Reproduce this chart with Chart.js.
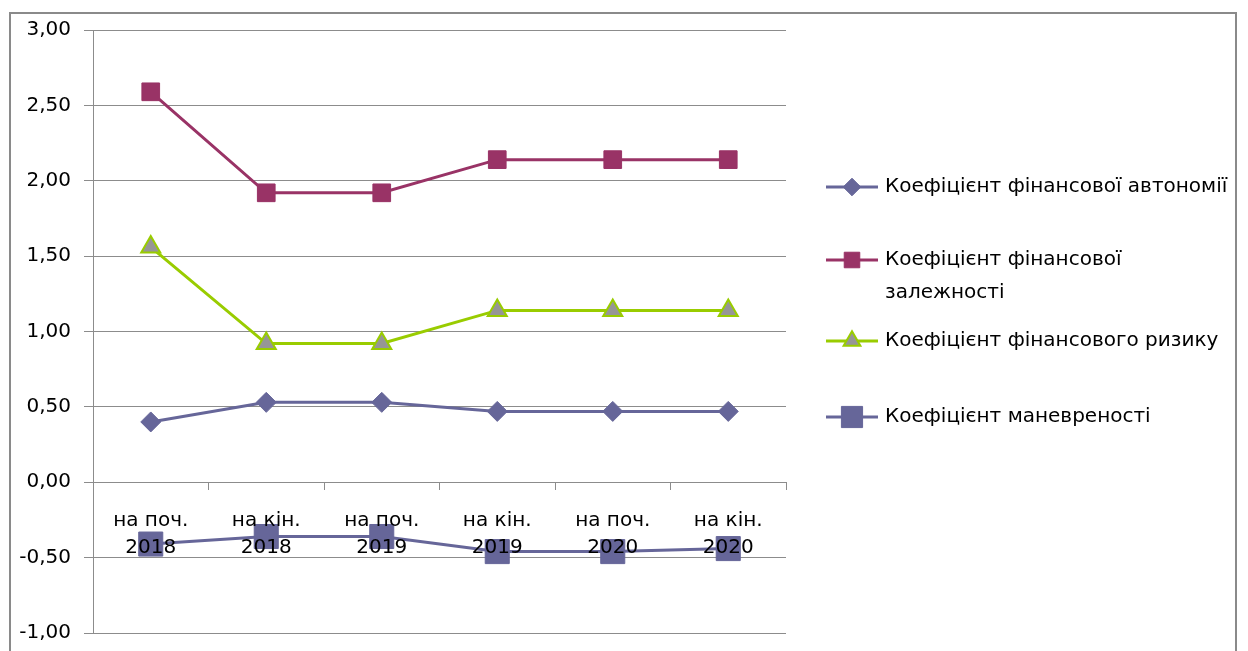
<!DOCTYPE html>
<html>
<head>
<meta charset="utf-8">
<script src="https://cdn.jsdelivr.net/npm/chart.js@4/dist/chart.umd.min.js"></script>
<style>
  html, body { margin: 0; padding: 0; background: #fff; }
  canvas { display: block; }
</style>
</head>
<body>
<canvas id="chart" width="1248" height="651"></canvas>
<script>
// Reporting periods (two-line category labels)
const periods = [
  ['на поч.', '2018'], ['на кін.', '2018'],
  ['на поч.', '2019'], ['на кін.', '2019'],
  ['на поч.', '2020'], ['на кін.', '2020']
];

// Financial ratios per period
const autonomy        = [0.40, 0.53, 0.53, 0.47, 0.47, 0.47];
const dependence      = [2.59, 1.92, 1.92, 2.14, 2.14, 2.14];
const risk            = [1.56, 0.92, 0.92, 1.14, 1.14, 1.14];
const maneuverability = [-0.41, -0.36, -0.36, -0.46, -0.46, -0.44];

// Series names (a newline marks where the legend entry wraps)
const seriesNames = [
  'Коефіцієнт фінансової автономії',
  'Коефіцієнт фінансової\nзалежності',
  'Коефіцієнт фінансового ризику',
  'Коефіцієнт маневреності'
];

// Value axis range
const yMin = -1, yMax = 3, yStep = 0.5;

const FONT = 'DejaVu Sans';
const GRID = '#8c8c8c';

Chart.defaults.font.family = FONT;
Chart.defaults.color = '#000';

// Outer frame around the whole chart object
const framePlugin = {
  id: 'frame',
  beforeDraw(chart) {
    const ctx = chart.ctx;
    ctx.save();
    ctx.strokeStyle = '#8a8a8a';
    ctx.lineWidth = 2;
    ctx.strokeRect(10, 13, 1226, 700);
    ctx.restore();
  }
};

// Legend on the right: line sample with marker, then the series name
const sideLegend = {
  id: 'sideLegend',
  afterDraw(chart, args, opts) {
    const ctx = chart.ctx;
    ctx.save();
    chart.data.datasets.forEach((ds, i) => {
      const y = opts.rows[i];
      ctx.strokeStyle = ds.borderColor;
      ctx.lineWidth = ds.borderWidth;
      ctx.beginPath();
      ctx.moveTo(opts.x0, y);
      ctx.lineTo(opts.x1, y);
      ctx.stroke();

      ctx.fillStyle = ds.pointBackgroundColor;
      ctx.strokeStyle = ds.pointBorderColor;
      ctx.lineWidth = ds.pointBorderWidth;
      Chart.helpers.drawPoint(ctx, {
        pointStyle: ds.pointStyle,
        radius: ds.pointRadius * opts.markerScale,
        borderWidth: ds.pointBorderWidth,
        rotation: 0
      }, (opts.x0 + opts.x1) / 2, y);

      ctx.fillStyle = '#000';
      ctx.font = opts.font;
      ctx.textBaseline = 'middle';
      ctx.textAlign = 'left';
      ds.label.split('\n').forEach((line, k) => {
        ctx.fillText(line, opts.textX, y + k * opts.lineHeight);
      });
    });
    ctx.restore();
  }
};

new Chart(document.getElementById('chart'), {
  type: 'line',
  data: {
    labels: periods,
    datasets: [
      {
        label: seriesNames[0],
        data: autonomy,
        borderColor: '#666699',
        borderWidth: 3,
        pointStyle: 'rectRot',
        pointRadius: 10,
        pointBackgroundColor: '#666699',
        pointBorderColor: '#666699',
        pointBorderWidth: 1
      },
      {
        label: seriesNames[1],
        data: dependence,
        borderColor: '#993366',
        borderWidth: 3,
        pointStyle: 'rect',
        pointRadius: 12.5,
        pointBackgroundColor: '#993366',
        pointBorderColor: '#993366',
        pointBorderWidth: 1
      },
      {
        label: seriesNames[2],
        data: risk,
        borderColor: '#99cc00',
        borderWidth: 3,
        pointStyle: 'triangle',
        pointRadius: 11,
        pointBackgroundColor: '#969696',
        pointBorderColor: '#99cc00',
        pointBorderWidth: 2
      },
      {
        label: seriesNames[3],
        data: maneuverability,
        borderColor: '#666699',
        borderWidth: 3,
        pointStyle: 'rect',
        pointRadius: 17,
        pointBackgroundColor: '#666699',
        pointBorderColor: '#666699',
        pointBorderWidth: 1
      }
    ]
  },
  options: {
    responsive: false,
    animation: false,
    events: [],
    elements: { line: { tension: 0 } },
    layout: { padding: { left: 0, top: 30, right: 462, bottom: 18 } },
    scales: {
      x: {
        type: 'category',
        position: { y: 0 },
        offset: true,
        grid: {
          display: true,
          drawOnChartArea: false,
          drawTicks: true,
          tickLength: 7,
          color: GRID,
          offset: true,
          z: 1
        },
        border: { display: true, color: GRID, width: 1, z: 1 },
        ticks: {
          font: { family: FONT, size: 20, lineHeight: 1.36 },
          color: '#000',
          padding: 18,
          maxRotation: 0,
          autoSkip: false,
          z: 1
        }
      },
      y: {
        position: 'left',
        min: yMin,
        max: yMax,
        afterFit(scale) {
          scale.width = 93;
          scale.paddingTop = 0;
          scale.paddingBottom = 0;
        },
        grid: { color: GRID, lineWidth: 1, tickLength: 9 },
        border: { display: true, color: GRID, width: 1 },
        ticks: {
          stepSize: yStep,
          font: { family: FONT, size: 20 },
          color: '#000',
          padding: 13,
          callback: v => v.toFixed(2).replace('.', ',')
        }
      }
    },
    plugins: {
      legend: { display: false },
      tooltip: { enabled: false },
      sideLegend: {
        rows: [187, 260, 341, 417],
        x0: 826,
        x1: 878,
        textX: 885,
        lineHeight: 33,
        markerScale: 0.88,
        font: '20px "DejaVu Sans"'
      }
    }
  },
  plugins: [framePlugin, sideLegend]
});
</script>
</body>
</html>
